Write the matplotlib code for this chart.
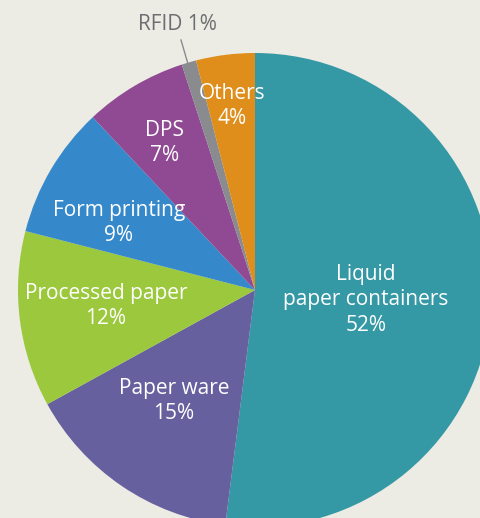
import matplotlib
matplotlib.use('Agg')
import matplotlib.pyplot as plt

labels = ['Liquid\npaper containers', 'Paper ware', 'Processed paper', 'Form printing', 'DPS', 'RFID', 'Others']
shares = [52, 15, 12, 9, 7, 1, 4]
colors = ['#3598A5', '#67609F', '#9BC83C', '#3589CB', '#8F4A93', '#8A8B8E', '#E08E1B']
bg = '#ECEBE4'

H = 518
# label centres in pixel coords from the top (layout only)
label_pos = [(366, 300), (174, 401), (106, 306), (119, 223), (165, 143), None, (232, 106)]

plt.rcParams['font.family'] = ['Open Sans', 'DejaVu Sans']
fig = plt.figure(figsize=(4.81, 5.18), dpi=100, facecolor=bg)
ax = fig.add_axes([0, 0, 1, 1])
ax.set_facecolor(bg)

ax.pie(shares, colors=colors, startangle=90, counterclock=False,
       center=(255, H - 290), radius=237, frame=True,
       wedgeprops=dict(linewidth=0))
ax.set_xlim(0, 481)
ax.set_ylim(0, H)
ax.set_aspect('equal')
ax.axis('off')

for lab, s, pos in zip(labels, shares, label_pos):
    if pos is None:
        continue
    ax.text(pos[0], H - pos[1], f'{lab}\n{s}%', color='white', fontsize=15,
            ha='center', va='center', linespacing=1.27, fontweight='medium')

# RFID outside label with leader line
ax.plot([181, 188], [H - 40, H - 64], color='#8A8B8E', linewidth=1)
ax.text(177, H - 24, f'RFID {shares[5]}%', color='#6D6E71', fontsize=15,
        ha='center', va='center', fontweight='medium')

fig.savefig('out.png', dpi=100, facecolor=bg)
